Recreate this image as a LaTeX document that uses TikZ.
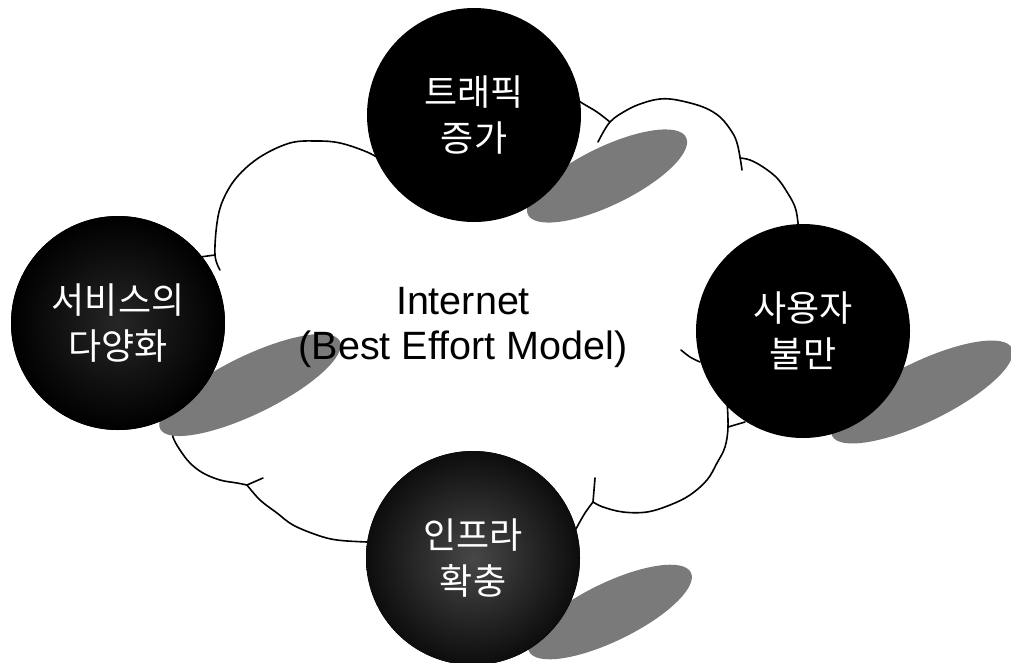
\documentclass[tikz,border=0pt]{standalone}
\usepackage{fontspec}
\setmainfont{Liberation Sans}
\newfontfamily\krfont{Noto Sans CJK KR}
\begin{document}
\begin{tikzpicture}[x=1pt,y=-1pt,
  cloudline/.style={line width=1.6pt, line join=round, line cap=round},
  shadowblob/.style={fill=black!52},
  ball/.style={circle, minimum size=214pt, inner sep=0pt, fill=black, text=white,
    font=\krfont\fontsize{36}{46}\selectfont, align=center},
  greyball/.style={ball, inner color=black!72, outer color=black!95},
  label/.style={font=\fontsize{39.5}{45}\selectfont, align=center}]
\useasboundingbox (0,0) rectangle (1011,662);
\fill[white] (0,0) rectangle (1011,662);
% cloud outline (visible segments)
\draw[cloudline] plot[smooth, tension=0.6] coordinates {(220,270) (215,255) (217,223) (223,200) (237,177) (260,157) (290,143) (317,141) (340,143) (367,152) (385,162)};
\draw[cloudline] (200,257) -- (215,255);
\draw[cloudline] plot[smooth, tension=0.6] coordinates {(570,95) (582,103) (597,112) (610,122)};
\draw[cloudline] plot[smooth, tension=0.6] coordinates {(598,142) (610,122) (627,110) (643,103) (660,99) (677,100) (703,107) (720,117) (732,132) (737,143) (740,157) (742,170)};
\draw[cloudline] plot[smooth, tension=0.6] coordinates {(740,158) (750,160) (763,167) (777,178) (787,192) (795,207) (798,223) (799,240)};
\draw[cloudline] plot[smooth, tension=0.6] coordinates {(727,400) (728,427) (725,447) (717,463) (707,480) (690,495) (670,505) (647,512) (623,512) (603,507) (593,502)};
\draw[cloudline] (728,427) -- (745,422);
\draw[cloudline] (593,502) -- (595,478);
\draw[cloudline] plot[smooth, tension=0.6] coordinates {(593,502) (585,513) (577,527) (570,540)};
\draw[cloudline] plot[smooth, tension=0.6] coordinates {(247,485) (260,500) (277,513) (293,525) (317,535) (337,540) (367,542) (380,542)};
\draw[cloudline] (247,485) -- (263,478);
\draw[cloudline] plot[smooth, tension=0.6] coordinates {(168,410) (172,425) (173,437) (180,450) (190,463) (203,473) (220,480) (237,483) (247,485)};
\draw[cloudline] plot[smooth, tension=0.6] coordinates {(681,350) (690,357) (700,362)};
% shadows
\fill[shadowblob, rotate around={26:(607,176)}] (607,176) ellipse (88 and 29);
\fill[shadowblob, rotate around={26:(250,385)}] (250,385) ellipse (100 and 29);
\fill[shadowblob, rotate around={26:(922,392)}] (922,392) ellipse (100 and 30);
\fill[shadowblob, rotate around={26:(610,612)}] (610,612) ellipse (90 and 29);
% balls
\node[ball] (traffic) at (474,115) {트래픽\\증가};
\node[ball, inner color=black!85, outer color=black] (service) at (118,323) {서비스의\\다양화};
\node[ball] (user) at (803,331) {사용자\\불만};
\node[greyball] (infra) at (473,558) {인프라\\확충};
% centre label
\node[label] (inet) at (463,327) {Internet\\(Best Effort Model)};
\end{tikzpicture}
\end{document}
